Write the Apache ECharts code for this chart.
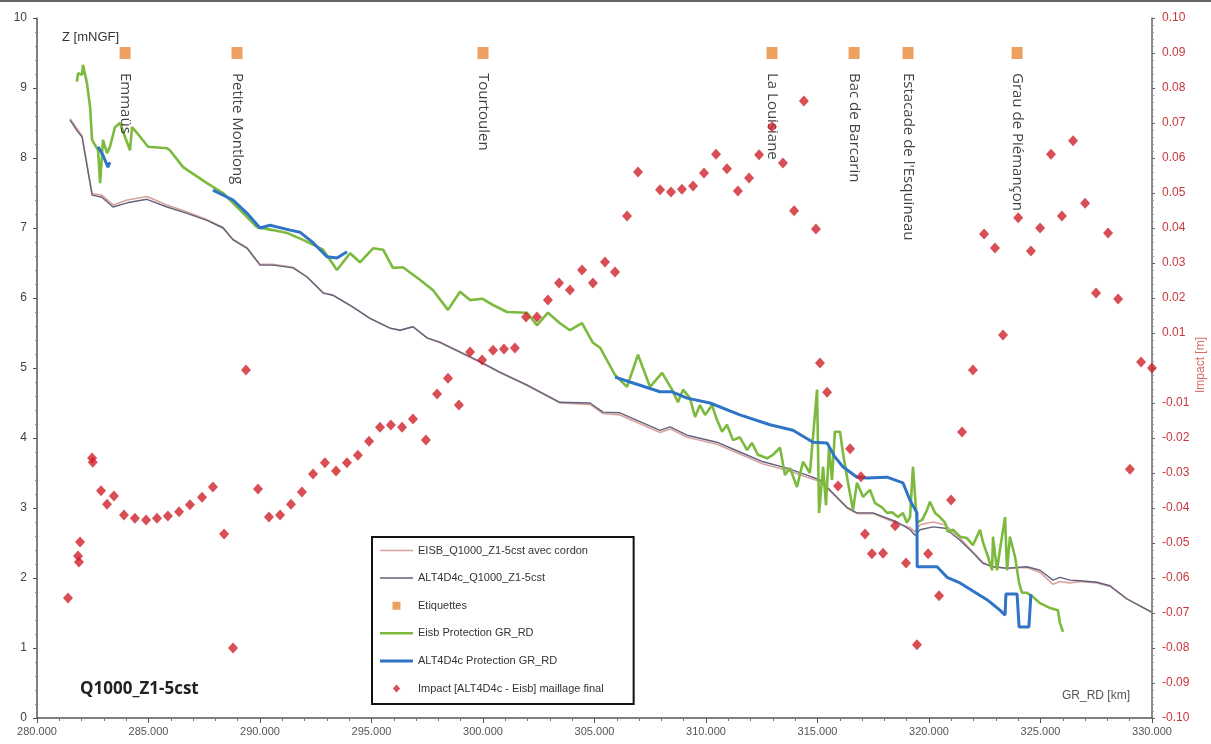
<!DOCTYPE html>
<html>
<head>
<meta charset="utf-8">
<script src="https://cdn.jsdelivr.net/npm/echarts@6/dist/echarts.min.js"></script>
<style>
html,body{margin:0;padding:0;background:#fff;}
#chart{width:1211px;height:744px;}
</style>
</head>
<body>
<div id="chart"></div>
<script>
// ---------- DATA ----------
// Water level lines (km, Z mNGF)
const lineKm = [281.48,281.84,282.02,282.47,282.91,283.41,284.04,284.93,285.83,286.73,287.62,288.34,288.79,289.42,290.00,290.58,291.48,292.11,292.83,293.27,294.17,294.93,295.83,296.28,296.86,297.49,298.07,298.97,299.87,300.76,301.97,303.45,304.80,305.38,306.14,307.94,308.39,309.15,310.49,311.52,312.56,313.63,314.53,315.11,315.70,316.32,316.77,317.49,318.57,319.15,319.37,319.60,320.18,320.72,321.39,321.97,322.42,322.87,323.50,324.39,324.98,325.56,325.87,326.32,326.77,327.53,328.12,328.88,330.00];
const altZ = [8.54,8.37,8.30,7.47,7.44,7.30,7.36,7.41,7.30,7.21,7.11,7.00,6.83,6.71,6.47,6.47,6.43,6.30,6.07,6.04,5.87,5.71,5.57,5.54,5.59,5.43,5.37,5.23,5.09,4.94,4.76,4.51,4.50,4.37,4.36,4.11,4.16,4.04,3.94,3.80,3.66,3.57,3.47,3.40,3.21,3.01,2.93,2.93,2.80,2.69,2.61,2.69,2.73,2.71,2.54,2.36,2.21,2.16,2.14,2.16,2.11,1.97,2.01,1.97,1.96,1.94,1.89,1.70,1.51];
const eisbZ = [8.56,8.40,8.32,7.49,7.47,7.33,7.40,7.45,7.33,7.23,7.12,7.01,6.84,6.72,6.48,6.48,6.44,6.30,6.08,6.04,5.87,5.71,5.57,5.54,5.59,5.43,5.36,5.22,5.08,4.93,4.75,4.50,4.48,4.35,4.33,4.08,4.13,4.01,3.91,3.77,3.63,3.54,3.44,3.38,3.20,3.00,2.92,2.92,2.78,2.72,2.66,2.76,2.80,2.76,2.57,2.37,2.22,2.16,2.14,2.15,2.08,1.91,1.95,1.93,1.95,1.93,1.88,1.70,1.51];

// Eisb Protection GR_RD (green)
const greenKm = [281.79,281.84,282.02,282.06,282.24,282.38,282.47,282.74,282.83,282.96,283.14,283.27,283.50,283.72,283.95,284.17,284.26,284.48,284.98,285.83,285.96,286.55,287.62,288.34,289.10,289.87,290.58,291.21,291.93,292.83,293.45,294.04,294.48,295.07,295.52,295.96,296.41,297.17,297.76,298.43,298.97,299.42,299.96,300.45,301.08,301.97,302.42,302.91,303.45,303.90,304.44,304.93,305.25,305.92,306.46,306.95,307.49,308.03,308.48,308.74,308.97,309.28,309.51,309.73,309.96,310.27,310.49,310.72,310.94,311.21,311.52,311.84,312.06,312.33,312.74,313.00,313.32,313.54,313.77,314.08,314.35,314.66,314.98,315.07,315.25,315.38,315.52,315.65,315.78,316.01,316.14,316.37,316.59,316.77,317.04,317.35,317.58,317.89,318.12,318.34,318.61,318.83,319.01,319.15,319.28,319.46,319.69,319.91,320.04,320.27,320.49,320.72,320.85,321.08,321.39,321.70,321.97,322.29,322.42,322.65,322.83,322.87,323.05,323.18,323.41,323.50,323.63,323.86,324.04,324.17,324.39,324.66,324.98,325.43,325.78,325.87,326.01];
const greenZ = [9.09,9.21,9.19,9.33,9.07,8.73,8.26,8.11,7.64,8.26,8.07,8.16,8.44,8.50,8.30,8.11,8.44,8.36,8.16,8.14,8.11,7.87,7.64,7.50,7.26,7.01,6.97,6.93,6.83,6.69,6.40,6.64,6.51,6.71,6.69,6.43,6.44,6.26,6.11,5.83,6.09,5.97,5.99,5.90,5.80,5.79,5.61,5.79,5.64,5.54,5.64,5.36,5.29,4.90,4.73,5.19,4.73,4.93,4.69,4.51,4.69,4.57,4.30,4.47,4.33,4.47,4.26,4.09,4.19,3.97,4.01,3.83,3.93,3.76,3.71,3.76,3.86,3.47,3.57,3.30,3.66,3.50,4.69,2.93,3.59,3.04,3.87,3.40,4.09,4.09,3.79,3.36,2.97,3.36,3.16,3.26,3.07,3.01,2.93,2.94,2.87,2.93,2.79,2.87,3.59,2.79,2.83,2.97,3.09,2.93,2.87,2.79,2.66,2.69,2.59,2.57,2.47,2.69,2.51,2.30,2.11,2.59,2.11,2.40,2.87,2.11,2.59,2.30,1.93,1.79,1.79,1.73,1.64,1.57,1.54,1.36,1.23];

// ALT4D4c Protection GR_RD (blue), null = gap
const blueKm = [282.74,282.96,283.18,283.27,285.0,287.89,288.79,289.42,290.00,290.45,291.35,291.79,292.38,293.00,293.45,293.90,300.0,305.92,306.59,307.94,308.48,309.15,310.18,311.52,312.87,313.90,314.80,315.43,315.78,316.14,316.77,317.22,318.12,318.83,319.15,319.46,319.47,320.36,320.81,321.39,322.60,323.18,323.41,323.45,323.95,324.04,324.48,324.57];
const blueZ = [8.16,8.04,7.87,7.94,null,7.54,7.40,7.21,7.00,7.04,6.97,6.94,6.79,6.59,6.57,6.66,null,4.87,4.80,4.66,4.66,4.57,4.50,4.33,4.19,4.11,3.94,3.93,3.73,3.59,3.44,3.43,3.44,3.36,3.11,2.93,2.16,2.16,2.01,1.93,1.69,1.54,1.47,1.77,1.77,1.30,1.30,1.77];

// Etiquettes
const labelKm = [283.95,288.97,300.0,312.96,316.64,319.06,323.95];
const labelZ = [9.5,9.5,9.5,9.5,9.5,9.5,9.5];
const labelNames = ['Emmaüs','Petite Montlong','Tourtoulen','La Louisiane','Bac de Barcarin',"Estacade de l'Esquineau",'Grau de Piémançon'];

// Impact [ALT4D4c - Eisb] (m)
const impactKm = [281.39,281.84,281.88,281.93,282.47,282.50,282.87,283.14,283.45,283.90,284.39,284.89,285.38,285.87,286.37,286.86,287.40,287.89,288.39,288.79,289.37,289.91,290.40,290.90,291.39,291.88,292.38,292.91,293.41,293.90,294.39,294.89,295.38,295.87,296.37,296.86,297.44,297.94,298.43,298.92,299.42,299.96,300.45,300.94,301.43,301.93,302.42,302.91,303.41,303.90,304.44,304.93,305.47,305.92,306.46,306.95,307.94,308.43,308.92,309.42,309.91,310.45,310.94,311.43,311.93,312.38,312.96,313.45,313.95,314.39,314.93,315.11,315.43,315.92,316.46,316.95,317.13,317.44,317.94,318.48,318.97,319.46,319.96,320.45,320.99,321.48,321.97,322.47,322.96,323.32,324.00,324.57,324.98,325.47,325.96,326.46,327.00,327.49,328.03,328.48,329.01,329.51,330.00];
const impactVal = [-0.0657,-0.0537,-0.0554,-0.0497,-0.0257,-0.0269,-0.0351,-0.0389,-0.0366,-0.0420,-0.0429,-0.0434,-0.0429,-0.0423,-0.0411,-0.0391,-0.0369,-0.0340,-0.0474,-0.0800,-0.0006,-0.0346,-0.0426,-0.0420,-0.0389,-0.0354,-0.0303,-0.0271,-0.0294,-0.0271,-0.0249,-0.0209,-0.0169,-0.0163,-0.0169,-0.0146,-0.0206,-0.0074,-0.0029,-0.0106,0.0046,0.0023,0.0051,0.0054,0.0057,0.0146,0.0146,0.0194,0.0243,0.0223,0.0280,0.0243,0.0303,0.0274,0.0434,0.0560,0.0509,0.0503,0.0511,0.0520,0.0557,0.0611,0.0569,0.0506,0.0543,0.0609,0.0689,0.0586,0.0449,0.0763,0.0397,0.0014,-0.0069,-0.0337,-0.0231,-0.0311,-0.0474,-0.0531,-0.0529,-0.0451,-0.0557,-0.0791,-0.0531,-0.0651,-0.0377,-0.0183,-0.0006,0.0383,0.0343,0.0094,0.0429,0.0334,0.0400,0.0611,0.0434,0.0649,0.0471,0.0214,0.0386,0.0197,-0.0289,0.0017,0.0000];

// ---------- CHART ----------
const pair = (xs, ys) => xs.map((x, i) => [x, ys[i] === null ? '-' : ys[i]]);
const chart = echarts.init(document.getElementById('chart'), null, {renderer: 'canvas'});
const FONT = 'Liberation Sans';

const option = {
  backgroundColor: '#ffffff',
  animation: false,
  textStyle: {fontFamily: FONT},
  grid: {left: 37, right: 59, top: 18, bottom: 26, containLabel: false},
  xAxis: {
    type: 'value', min: 280, max: 330, interval: 5,
    axisLine: {show: true, onZero: false, lineStyle: {color: '#555', width: 1.5}},
    axisTick: {show: true, length: 5, lineStyle: {color: '#555'}},
    minorTick: {show: true, splitNumber: 5, length: 3, lineStyle: {color: '#777'}},
    splitLine: {show: false},
    axisLabel: {color: '#555', fontSize: 11, margin: 8, formatter: v => v.toFixed(3)}
  },
  yAxis: [{
    type: 'value', min: 0, max: 10, interval: 1, position: 'left',
    axisLine: {show: true, lineStyle: {color: '#555', width: 1.5}},
    axisTick: {show: true, length: 4, lineStyle: {color: '#555'}},
    minorTick: {show: true, splitNumber: 5, length: 2, lineStyle: {color: '#888'}},
    splitLine: {show: false},
    axisLabel: {color: '#444', fontSize: 12, margin: 10}
  }, {
    type: 'value', min: -0.1, max: 0.1, interval: 0.01, position: 'right',
    axisLine: {show: true, lineStyle: {color: '#666', width: 1.5}},
    axisTick: {show: true, length: 3, lineStyle: {color: '#666'}},
    minorTick: {show: true, splitNumber: 5, length: 2, lineStyle: {color: '#999'}},
    splitLine: {show: false},
    axisLabel: {color: '#c8383e', fontSize: 12, margin: 10,
      formatter: v => Math.abs(v) < 1e-9 ? '' : v.toFixed(2)}
  }],
  legend: {
    orient: 'vertical', left: 372, top: 537,
    backgroundColor: '#fff', borderColor: '#111', borderWidth: 2,
    padding: [8, 30, 10, 8],
    itemWidth: 33, itemHeight: 8, itemGap: 16.6,
    textStyle: {color: '#333', fontSize: 11},
    data: [
      {name: 'EISB_Q1000_Z1-5cst avec cordon', icon: 'path://M0,0L33,0L33,1.5L0,1.5Z'},
      {name: 'ALT4D4c_Q1000_Z1-5cst', icon: 'path://M0,0L33,0L33,1.5L0,1.5Z'},
      {name: 'Etiquettes', icon: 'path://M0,0L10,0L10,10L0,10Z'},
      {name: 'Eisb Protection GR_RD', icon: 'path://M0,0L33,0L33,2.6L0,2.6Z'},
      {name: 'ALT4D4c Protection GR_RD', icon: 'path://M0,0L33,0L33,3L0,3Z'},
      {name: 'Impact [ALT4D4c - Eisb] maillage final', icon: 'path://M5,0L10,5.5L5,11L0,5.5Z'}
    ]
  },
  graphic: [
    {type: 'rect', shape: {x: 0, y: 0, width: 1211, height: 2}, style: {fill: '#666'}},
    {type: 'text', left: 62, top: 31, style: {text: 'Z [mNGF]', fill: '#333', font: '13px ' + FONT}},
    {type: 'text', left: 1062, top: 690, style: {text: 'GR_RD [km]', fill: '#555', font: '12px ' + FONT}},
    {type: 'text', left: 80, top: 681, style: {text: 'Q1000_Z1-5cst', fill: '#222', font: 'bold 17px "Open Sans"'}},
    {type: 'text', x: 1201, y: 365, rotation: Math.PI / 2,
      style: {text: 'Impact [m]', fill: '#d96a6a', font: '12px ' + FONT, align: 'center', verticalAlign: 'middle'}}
  ],
  series: [
    {name: 'EISB_Q1000_Z1-5cst avec cordon', type: 'line', yAxisIndex: 0, symbol: 'none',
      data: pair(lineKm, eisbZ), lineStyle: {color: '#d9a39c', width: 1.6}, itemStyle: {color: '#d9a39c'}, z: 2},
    {name: 'ALT4D4c_Q1000_Z1-5cst', type: 'line', yAxisIndex: 0, symbol: 'none',
      data: pair(lineKm, altZ), lineStyle: {color: '#62627e', width: 1.4}, itemStyle: {color: '#62627e'}, z: 3},
    {name: 'Eisb Protection GR_RD', type: 'line', yAxisIndex: 0, symbol: 'none',
      data: pair(greenKm, greenZ), lineStyle: {color: '#7cba3e', width: 2.6}, itemStyle: {color: '#7cba3e'}, z: 4},
    {name: 'ALT4D4c Protection GR_RD', type: 'line', yAxisIndex: 0, symbol: 'none', connectNulls: false,
      data: pair(blueKm, blueZ), lineStyle: {color: '#2f74c6', width: 3}, itemStyle: {color: '#2f74c6'}, z: 5},
    {name: 'Etiquettes', type: 'scatter', yAxisIndex: 0, symbol: 'rect', symbolSize: [11, 12],
      itemStyle: {color: '#e8893a'}, z: 6,
      data: labelKm.map((k, i) => ({value: [k, labelZ[i]], name: labelNames[i]})),
      label: {show: true, position: 'bottom', distance: 14, rotate: -90, align: 'left', verticalAlign: 'middle',
        formatter: p => p.name, color: '#111', fontSize: 15, fontFamily: 'Open Sans'}},
    {name: 'Impact [ALT4D4c - Eisb] maillage final', type: 'scatter', yAxisIndex: 1, symbol: 'diamond', symbolSize: [10, 11],
      itemStyle: {color: '#d0202b'}, z: 7,
      data: pair(impactKm, impactVal)}
  ]
};
chart.setOption(option);
</script>
</body>
</html>
